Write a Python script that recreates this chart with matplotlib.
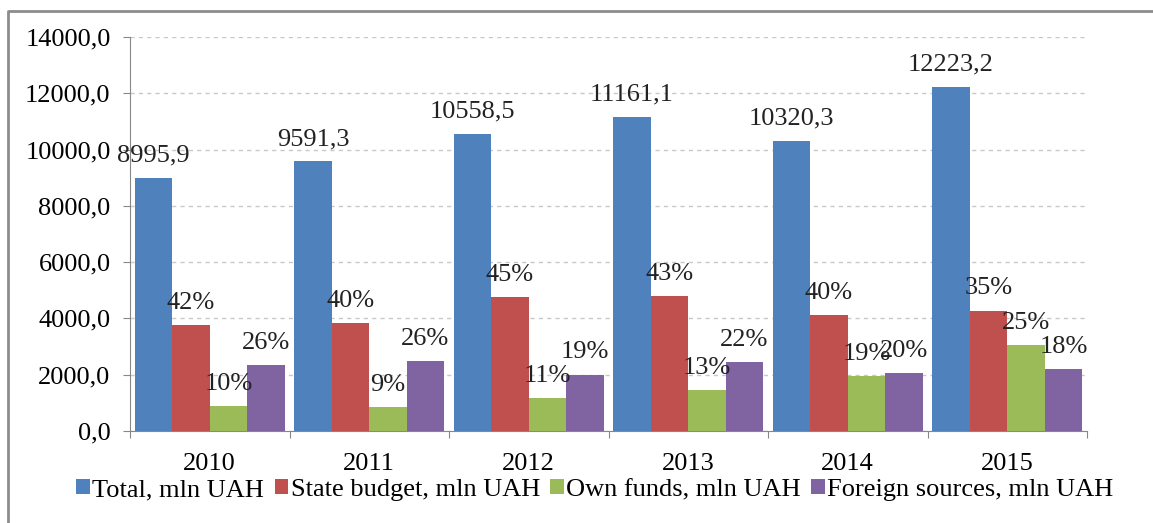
import numpy as np
import matplotlib
matplotlib.use('Agg')
import matplotlib.pyplot as plt
from matplotlib.ticker import FuncFormatter
from matplotlib.lines import Line2D

years = ['2010', '2011', '2012', '2013', '2014', '2015']
total = [8995.9, 9591.3, 10558.5, 11161.1, 10320.3, 12223.2]
state_budget = [3778, 3837, 4751, 4799, 4128, 4278]
own_funds = [900, 863, 1161, 1451, 1961, 3056]
foreign = [2339, 2494, 2006, 2455, 2064, 2200]

state_pct = ['42%', '40%', '45%', '43%', '40%', '35%']
own_pct = ['10%', '9%', '11%', '13%', '19%', '25%']
foreign_pct = ['26%', '26%', '19%', '22%', '20%', '18%']

names = ['Total, mln UAH', 'State budget, mln UAH', 'Own funds, mln UAH', 'Foreign sources, mln UAH']
colors = ['#4F81BD', '#C0504D', '#9BBB59', '#8064A2']

plt.rcParams['font.family'] = ['Liberation Serif', 'DejaVu Serif']

W, H = 1153, 523
fig = plt.figure(figsize=(W / 100, H / 100), dpi=100)
ax = fig.add_axes([130 / W, (H - 431) / H, 957 / W, 394 / H])

# chart border (only left and top edges visible in the crop)
fig.lines.append(Line2D([8 / W, 8 / W, 1.0], [0.0, 1 - 11 / H, 1 - 11 / H], transform=fig.transFigure,
                        color='#8c8c8c', linewidth=2))

x = np.arange(len(years))
w = 0.235
series = [total, state_budget, own_funds, foreign]
labels = [[('%.1f' % v).replace('.', ',') for v in total], state_pct, own_pct, foreign_pct]

for i, (vals, col, nm) in enumerate(zip(series, colors, names)):
    pos = x + (i - 1.5) * w
    ax.bar(pos, vals, width=w, color=col, label=nm, zorder=3)
    for p, v, t in zip(pos, vals, labels[i]):
        ax.annotate(t, (p, v), xytext=(0, 8), textcoords='offset points',
                    ha='center', va='bottom', fontsize=19, color='#222222', zorder=5)

ax.set_ylim(0, 14000)
ax.set_xlim(-0.5, len(years) - 0.5)
ax.set_yticks(np.arange(0, 14001, 2000))
ax.yaxis.set_major_formatter(FuncFormatter(lambda v, p: ('%.1f' % v).replace('.', ',')))
ax.yaxis.grid(True, linestyle=(0, (3, 3)), color='#c8c8c8', linewidth=1, zorder=0)

ax.set_xticks(np.arange(-0.5, len(years), 1))
ax.set_xticklabels([])
ax.set_xticks(x, minor=True)
ax.set_xticklabels(years, minor=True, fontsize=19)
ax.tick_params(axis='x', which='minor', length=0, pad=16)
ax.tick_params(axis='x', which='major', length=5, color='#888888')
ax.tick_params(axis='y', length=5, color='#888888', labelsize=19, pad=9)

for s in ['top', 'right']:
    ax.spines[s].set_visible(False)
for s in ['left', 'bottom']:
    ax.spines[s].set_color('#888888')

ax.legend(loc='center', bbox_to_anchor=(595 / W, 1 - 490 / H), bbox_transform=fig.transFigure,
          ncol=4, frameon=False, fontsize=19, handlelength=0.5, handleheight=0.5,
          handletextpad=0.1, columnspacing=0.4, borderpad=0)

fig.savefig('out.png', dpi=100)
